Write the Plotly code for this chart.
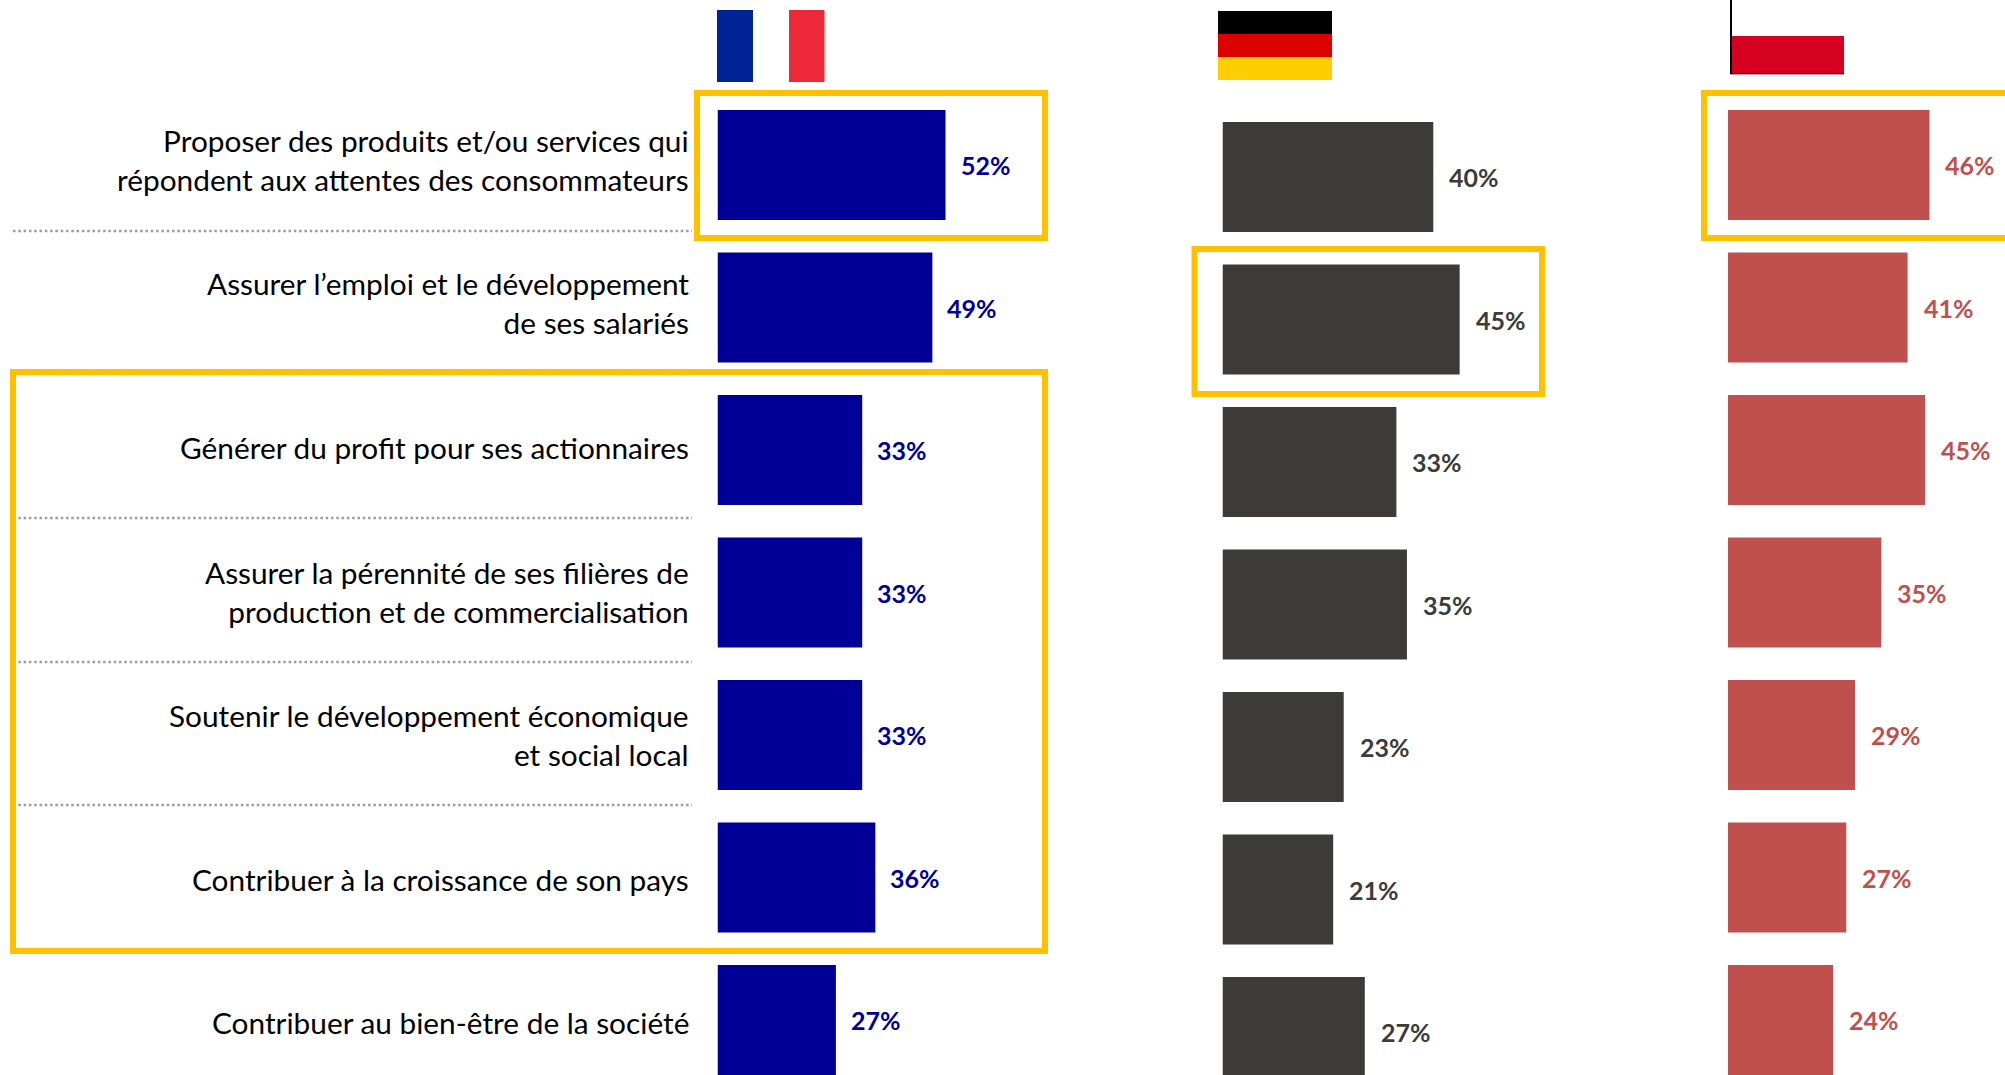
import plotly.graph_objects as go

W, H = 2005, 1075

categories = [
    "Proposer des produits et/ou services qui<br>répondent aux attentes des consommateurs",
    "Assurer l’emploi et le développement<br>de ses salariés",
    "Générer du profit pour ses actionnaires",
    "Assurer la pérennité de ses filières de<br>production et de commercialisation",
    "Soutenir le développement économique<br>et social local",
    "Contribuer à la croissance de son pays",
    "Contribuer au bien-être de la société",
]
france = [52, 49, 33, 33, 33, 36, 27]
germany = [40, 45, 33, 35, 23, 21, 27]
poland = [46, 41, 45, 35, 29, 27, 24]

FR_COL, DE_COL, PL_COL = "#000096", "#3C3B39", "#C0504D"
GOLD = "#FFC000"
STEP = 142.5
FONT = "Lato"
LABEL_NUDGE = [5, 5, 3, 1, 0, -2, -2]

def px(v): return v / W
def py(v): return 1 - v / H

# name, values, colour, left px, right px, px per %, first bar centre px, label gap, axis suffix
panels = [
    ("France", france, FR_COL, 717.5, 1150, 4.385, 165, 13, ""),
    ("Allemagne", germany, DE_COL, 1222.5, 1700, 5.27, 177, 14, "2"),
    ("Pologne", poland, PL_COL, 1728, 2005, 4.38, 165, 14, "3"),
]

fig = go.Figure()
annotations = []
layout = {}
for name, vals, col, x0, x1, scale, c0, gap, suf in panels:
    fig.add_trace(go.Bar(
        name=name, x=vals, y=categories, orientation="h",
        marker=dict(color=col, line=dict(width=0)),
        xaxis="x" + suf, yaxis="y" + suf, showlegend=False, hoverinfo="x+y",
    ))
    layout["xaxis" + suf] = dict(
        domain=[px(x0), px(x1)], range=[0, (x1 - x0) / scale],
        visible=False, anchor="y" + suf, fixedrange=True,
    )
    layout["yaxis" + suf] = dict(
        domain=[0, 1], anchor="x" + suf, type="category",
        categoryorder="array", categoryarray=categories,
        range=[(H - c0) / STEP, -c0 / STEP],
        showgrid=False, zeroline=False, showline=False, fixedrange=True,
        showticklabels=False, ticks="",
    )
    for v, c in zip(vals, categories):
        annotations.append(dict(
            x=v, y=c, xref="x" + suf, yref="y" + suf, text=f"{v}%",
            showarrow=False, xanchor="left", xshift=gap,
            font=dict(family=FONT, size=25, color=col, weight="bold"),
        ))

for c, nudge in zip(categories, LABEL_NUDGE):
    annotations.append(dict(
        x=0, y=c, xref="x", yref="y", text=c, showarrow=False,
        xanchor="right", align="right", xshift=-26.5, yshift=nudge,
        font=dict(family=FONT, size=29.8, color="#000000"),
    ))

def rect(x0, y0, x1, y1, fill=None, line=None, lw=0, layer="above"):
    return dict(type="rect", xref="paper", yref="paper",
                x0=px(x0), x1=px(x1), y0=py(y0), y1=py(y1),
                fillcolor=fill if fill else "rgba(0,0,0,0)",
                line=dict(color=line if line else "rgba(0,0,0,0)", width=lw),
                layer=layer)

shapes = []
# dotted separators
for y in (231, 374, 518, 662, 805):
    shapes.append(dict(type="line", xref="paper", yref="paper",
                       x0=px(13), x1=px(692), y0=py(y), y1=py(y),
                       line=dict(color="#9C9C9C", width=2.5, dash="2.5px,2.8px"), layer="below"))
# highlight boxes
for b in ((697, 93, 1045, 238), (13, 372, 1045, 951), (1194.5, 249, 1542, 394), (1704, 93, 2015, 238)):
    shapes.append(rect(*b, line=GOLD, lw=6))
# flags
shapes += [
    rect(717, 10, 753, 82, fill="#002395"),
    rect(789, 10, 824.5, 82, fill="#ED2939"),
    rect(1218, 11, 1332, 34, fill="#000000"),
    rect(1218, 34, 1332, 57, fill="#DD0000"),
    rect(1218, 57, 1332, 80, fill="#FFCE00"),
    rect(1731, 36, 1844, 73, fill="#D60021"),
    rect(1730, 0, 1732, 74, fill="#000000"),
    rect(1730, 73, 1844, 74, fill="#000000"),
    rect(1730, 74, 1844, 75, fill="#C9A0A8"),
]

fig.update_layout(
    width=W, height=H, autosize=False,
    margin=dict(l=0, r=0, t=0, b=0, pad=0),
    paper_bgcolor="#FFFFFF", plot_bgcolor="rgba(0,0,0,0)",
    bargap=0.228, annotations=annotations, shapes=shapes,
    font=dict(family=FONT), **layout,
)
fig.write_html("out.html", config={"displayModeBar": False, "responsive": False},
               post_script="document.body.style.margin='0';document.body.style.overflow='hidden';")
